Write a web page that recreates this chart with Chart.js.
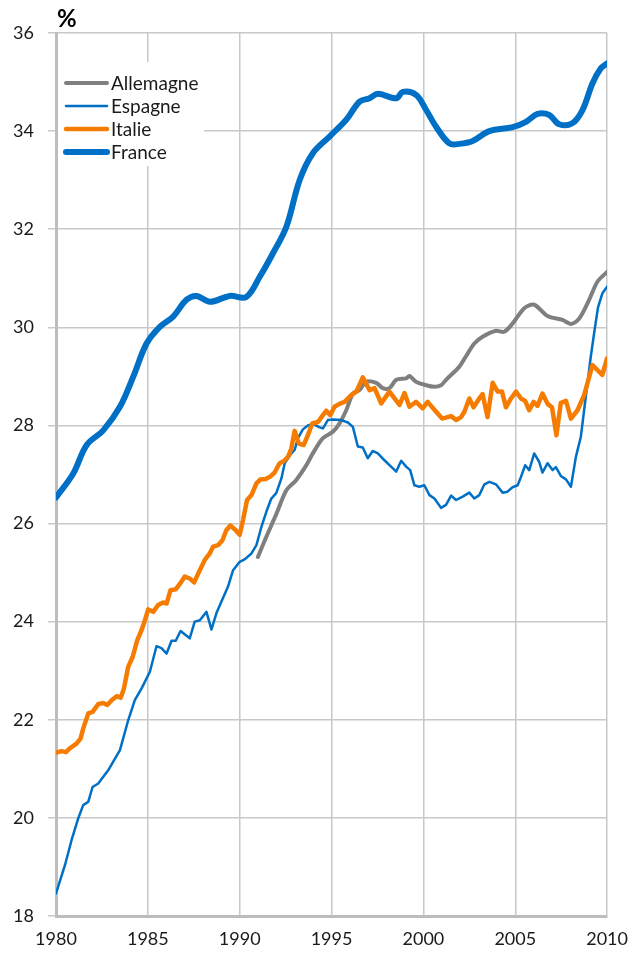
<!DOCTYPE html>
<html lang="fr">
<head>
<meta charset="utf-8">
<script src="https://cdn.jsdelivr.net/npm/chart.js@4.4.1/dist/chart.umd.min.js"></script>
<style>
    body { margin: 0; background: #fff; }
    #wrap { width: 640px; height: 956px; position: relative; }
</style>
</head>
<body>
<div id="wrap"><canvas id="myChart"></canvas></div>
<script>
// Années (en décimal) et valeurs, en %
const franceYears = [1980.00, 1980.94, 1981.67, 1982.57, 1983.48, 1984.20, 1984.93, 1985.65, 1986.38, 1987.10,
    1987.65, 1988.37, 1989.46, 1990.36, 1991.09, 1991.81, 1992.54, 1993.26, 1993.98, 1994.89,
    1995.80, 1996.52, 1997.07, 1997.52, 1998.52, 1998.88, 1999.60, 2000.15, 2000.69, 2001.41,
    2001.96, 2002.68, 2003.59, 2004.86, 2005.58, 2006.21, 2006.85, 2007.39, 2008.10, 2008.66,
    2009.20, 2009.66, 2010.00];
const franceValues = [26.53, 27.02, 27.60, 27.90, 28.38, 28.99, 29.67, 30.01, 30.22, 30.56,
    30.64, 30.52, 30.64, 30.62, 31.03, 31.51, 32.05, 33.00, 33.55, 33.89,
    34.23, 34.60, 34.67, 34.76, 34.67, 34.80, 34.74, 34.43, 34.09, 33.75,
    33.74, 33.80, 34.00, 34.08, 34.19, 34.35, 34.33, 34.14, 34.16, 34.43,
    34.97, 35.28, 35.38];

const allemagneYears = [1990.99, 1991.45, 1992.00, 1992.54, 1993.08, 1993.63, 1993.98, 1994.53, 1995.07, 1995.43,
    1995.80, 1996.16, 1996.52, 1996.88, 1997.43, 1997.79, 1998.15, 1998.52, 1999.06, 1999.24,
    1999.60, 2000.15, 2000.60, 2000.96, 2001.23, 2001.96, 2002.30, 2002.77, 2003.22, 2003.95,
    2004.40, 2004.86, 2005.49, 2006.03, 2006.76, 2007.57, 2008.03, 2008.48, 2009.02, 2009.47,
    2010.00];
const allemagneValues = [25.32, 25.73, 26.20, 26.68, 26.89, 27.19, 27.43, 27.74, 27.87, 28.04,
    28.31, 28.65, 28.72, 28.89, 28.87, 28.76, 28.76, 28.93, 28.96, 29.01,
    28.89, 28.82, 28.79, 28.82, 28.93, 29.20, 29.40, 29.67, 29.81, 29.93,
    29.91, 30.08, 30.39, 30.46, 30.23, 30.15, 30.07, 30.18, 30.56, 30.93,
    31.13];

const espagneYears = [1980.00, 1980.49, 1980.85, 1981.21, 1981.48, 1981.76, 1981.99, 1982.30, 1982.84, 1983.21,
    1983.48, 1983.93, 1984.29, 1984.66, 1985.11, 1985.47, 1985.74, 1986.02, 1986.29, 1986.52,
    1986.78, 1987.28, 1987.55, 1987.83, 1988.19, 1988.46, 1988.73, 1989.09, 1989.36, 1989.64,
    1990.00, 1990.27, 1990.64, 1990.91, 1991.18, 1991.45, 1991.72, 1991.99, 1992.27, 1992.45,
    1992.81, 1992.99, 1993.17, 1993.44, 1993.71, 1993.98, 1994.35, 1994.53, 1994.80, 1995.07,
    1995.53, 1995.89, 1996.16, 1996.43, 1996.70, 1996.97, 1997.24, 1997.52, 1997.88, 1998.24,
    1998.52, 1998.79, 1999.06, 1999.28, 1999.51, 1999.78, 2000.05, 2000.33, 2000.60, 2000.96,
    2001.23, 2001.51, 2001.78, 2002.14, 2002.50, 2002.77, 2003.04, 2003.32, 2003.59, 2003.95,
    2004.31, 2004.58, 2004.85, 2005.13, 2005.31, 2005.54, 2005.76, 2006.03, 2006.30, 2006.48,
    2006.76, 2007.03, 2007.21, 2007.48, 2007.76, 2008.03, 2008.30, 2008.57, 2008.84, 2009.11,
    2009.30, 2009.50, 2009.75, 2010.00];
const espagneValues = [18.46, 19.04, 19.55, 19.99, 20.26, 20.33, 20.63, 20.70, 20.97, 21.21,
    21.38, 21.99, 22.40, 22.64, 22.98, 23.50, 23.46, 23.35, 23.61, 23.61,
    23.81, 23.66, 24.00, 24.03, 24.20, 23.84, 24.17, 24.48, 24.71, 25.05,
    25.22, 25.27, 25.39, 25.56, 25.93, 26.24, 26.51, 26.62, 26.92, 27.23,
    27.43, 27.50, 27.74, 27.92, 28.00, 28.03, 27.96, 27.94, 28.11, 28.12,
    28.11, 28.06, 27.97, 27.57, 27.55, 27.33, 27.48, 27.43, 27.29, 27.16,
    27.06, 27.28, 27.16, 27.09, 26.78, 26.75, 26.78, 26.58, 26.51, 26.32,
    26.38, 26.57, 26.48, 26.55, 26.63, 26.51, 26.58, 26.80, 26.85, 26.80,
    26.63, 26.65, 26.74, 26.78, 26.95, 27.19, 27.09, 27.43, 27.26, 27.04,
    27.23, 27.09, 27.15, 26.97, 26.90, 26.75, 27.36, 27.77, 28.59, 29.40,
    29.90, 30.40, 30.70, 30.83];

const italieYears = [1980.00, 1980.31, 1980.54, 1980.76, 1981.13, 1981.34, 1981.48, 1981.76, 1981.99, 1982.30,
    1982.57, 1982.79, 1983.03, 1983.30, 1983.52, 1983.70, 1983.93, 1984.17, 1984.42, 1984.66,
    1984.84, 1985.02, 1985.29, 1985.56, 1985.83, 1986.02, 1986.23, 1986.52, 1986.78, 1987.01,
    1987.28, 1987.52, 1987.83, 1988.10, 1988.37, 1988.55, 1988.82, 1989.06, 1989.28, 1989.49,
    1989.77, 1990.00, 1990.18, 1990.40, 1990.64, 1990.91, 1991.13, 1991.41, 1991.67, 1991.90,
    1992.17, 1992.39, 1992.63, 1992.81, 1992.99, 1993.22, 1993.48, 1993.71, 1993.95, 1994.26,
    1994.49, 1994.71, 1994.93, 1995.16, 1995.43, 1995.71, 1996.07, 1996.35, 1996.70, 1997.07,
    1997.34, 1997.70, 1998.15, 1998.70, 1998.97, 1999.24, 1999.60, 1999.96, 2000.23, 2000.69,
    2001.02, 2001.51, 2001.78, 2002.05, 2002.23, 2002.50, 2002.73, 2003.04, 2003.22, 2003.49,
    2003.77, 2004.04, 2004.28, 2004.49, 2004.77, 2005.04, 2005.31, 2005.54, 2005.76, 2006.00,
    2006.21, 2006.48, 2006.76, 2007.00, 2007.24, 2007.48, 2007.76, 2008.03, 2008.39, 2008.75,
    2009.20, 2009.74, 2010.00];
const italieValues = [21.33, 21.36, 21.34, 21.42, 21.52, 21.62, 21.82, 22.13, 22.16, 22.32,
    22.34, 22.30, 22.40, 22.48, 22.45, 22.64, 23.08, 23.28, 23.62, 23.83,
    24.03, 24.25, 24.20, 24.34, 24.39, 24.37, 24.64, 24.66, 24.79, 24.92,
    24.88, 24.80, 25.05, 25.26, 25.39, 25.53, 25.56, 25.66, 25.87, 25.96,
    25.87, 25.77, 26.07, 26.48, 26.58, 26.82, 26.90, 26.91, 26.96, 27.04,
    27.23, 27.27, 27.36, 27.53, 27.89, 27.63, 27.60, 27.80, 28.04, 28.07,
    28.19, 28.30, 28.21, 28.38, 28.44, 28.48, 28.62, 28.69, 28.98, 28.72,
    28.76, 28.45, 28.69, 28.42, 28.66, 28.38, 28.48, 28.35, 28.48, 28.28,
    28.14, 28.19, 28.11, 28.17, 28.28, 28.55, 28.37, 28.55, 28.64, 28.17,
    28.87, 28.69, 28.69, 28.37, 28.55, 28.69, 28.55, 28.50, 28.31, 28.48,
    28.40, 28.65, 28.44, 28.37, 27.80, 28.46, 28.50, 28.14, 28.31, 28.62,
    29.23, 29.03, 29.37];

const yearTicks = [1980, 1985, 1990, 1995, 2000, 2005, 2010];

function points(years, values) {
    return years.map((x, i) => ({ x: x, y: values[i] }));
}

const FONT = 'Lato, "Noto Sans", sans-serif';
const GRID = '#c8c8c8';
const AXIS = '#bdbdbd';

// Légende dessinée dans la zone du graphique, avec un fond blanc
const legendPlugin = {
    id: 'legendeInterne',
    afterDatasetsDraw(chart) {
        const ctx = chart.ctx;
        const items = ['Allemagne', 'Espagne', 'Italie', 'France'];
        ctx.save();
        ctx.fillStyle = '#fff';
        ctx.fillRect(58, 62, 146, 104);
        ctx.font = '19px ' + FONT;
        ctx.textBaseline = 'middle';
        items.forEach((name, i) => {
            const ds = chart.data.datasets.find(d => d.label === name);
            const y = 83 + i * 23;
            ctx.strokeStyle = ds.borderColor;
            ctx.lineWidth = ds.borderWidth;
            ctx.lineCap = 'round';
            ctx.beginPath();
            ctx.moveTo(66, y);
            ctx.lineTo(107, y);
            ctx.stroke();
            ctx.fillStyle = '#1a1a1a';
            ctx.fillText(name, 111, y + 1);
        });
        ctx.restore();
    }
};

// Unité en haut de l'axe
const unitPlugin = {
    id: 'unite',
    afterDraw(chart) {
        const ctx = chart.ctx;
        ctx.save();
        ctx.font = 'bold 24px ' + FONT;
        ctx.fillStyle = '#000';
        ctx.textBaseline = 'middle';
        ctx.fillText('%', 57, 19);
        ctx.restore();
    }
};

const ctx = document.getElementById('myChart').getContext('2d');
window.chart = new Chart(ctx, {
    type: 'line',
    data: {
        datasets: [{
            label: 'Allemagne',
            data: points(allemagneYears, allemagneValues),
            borderColor: '#7f7f7f',
            borderWidth: 4,
            tension: 0.3,
            order: 3
        }, {
            label: 'Espagne',
            data: points(espagneYears, espagneValues),
            borderColor: '#0070c6',
            borderWidth: 2.5,
            tension: 0,
            order: 2
        }, {
            label: 'Italie',
            data: points(italieYears, italieValues),
            borderColor: '#f57c00',
            borderWidth: 4.5,
            tension: 0,
            order: 1
        }, {
            label: 'France',
            data: points(franceYears, franceValues),
            borderColor: '#0070c6',
            borderWidth: 6,
            tension: 0.35,
            order: 0
        }]
    },
    options: {
        responsive: true,
        maintainAspectRatio: false,
        animation: false,
        events: [],
        layout: {
            padding: { top: 33, right: 32, bottom: 0, left: 0 }
        },
        elements: {
            point: { radius: 0 },
            line: { borderJoinStyle: 'round', borderCapStyle: 'round', fill: false }
        },
        plugins: {
            legend: { display: false },
            tooltip: { enabled: false }
        },
        scales: {
            x: {
                type: 'linear',
                min: 1980,
                max: 2010,
                afterBuildTicks: (scale) => {
                    scale.ticks = yearTicks.map(v => ({ value: v }));
                },
                afterFit: (scale) => { scale.height = 40; },
                ticks: {
                    callback: (v) => String(v),
                    color: '#1a1a1a',
                    font: { family: FONT, size: 18 },
                    padding: 12,
                    maxRotation: 0,
                    autoSkip: false
                },
                grid: { color: GRID, lineWidth: 1.5, drawTicks: false },
                border: { color: AXIS, width: 3 }
            },
            y: {
                min: 18,
                max: 36,
                afterFit: (scale) => { scale.width = 56; },
                ticks: {
                    stepSize: 2,
                    color: '#1a1a1a',
                    font: { family: FONT, size: 18 },
                    padding: 14
                },
                grid: { color: GRID, lineWidth: 1.5, tickLength: 8 },
                border: { color: AXIS, width: 3 }
            }
        }
    },
    plugins: [legendPlugin, unitPlugin]
});
</script>
</body>
</html>
